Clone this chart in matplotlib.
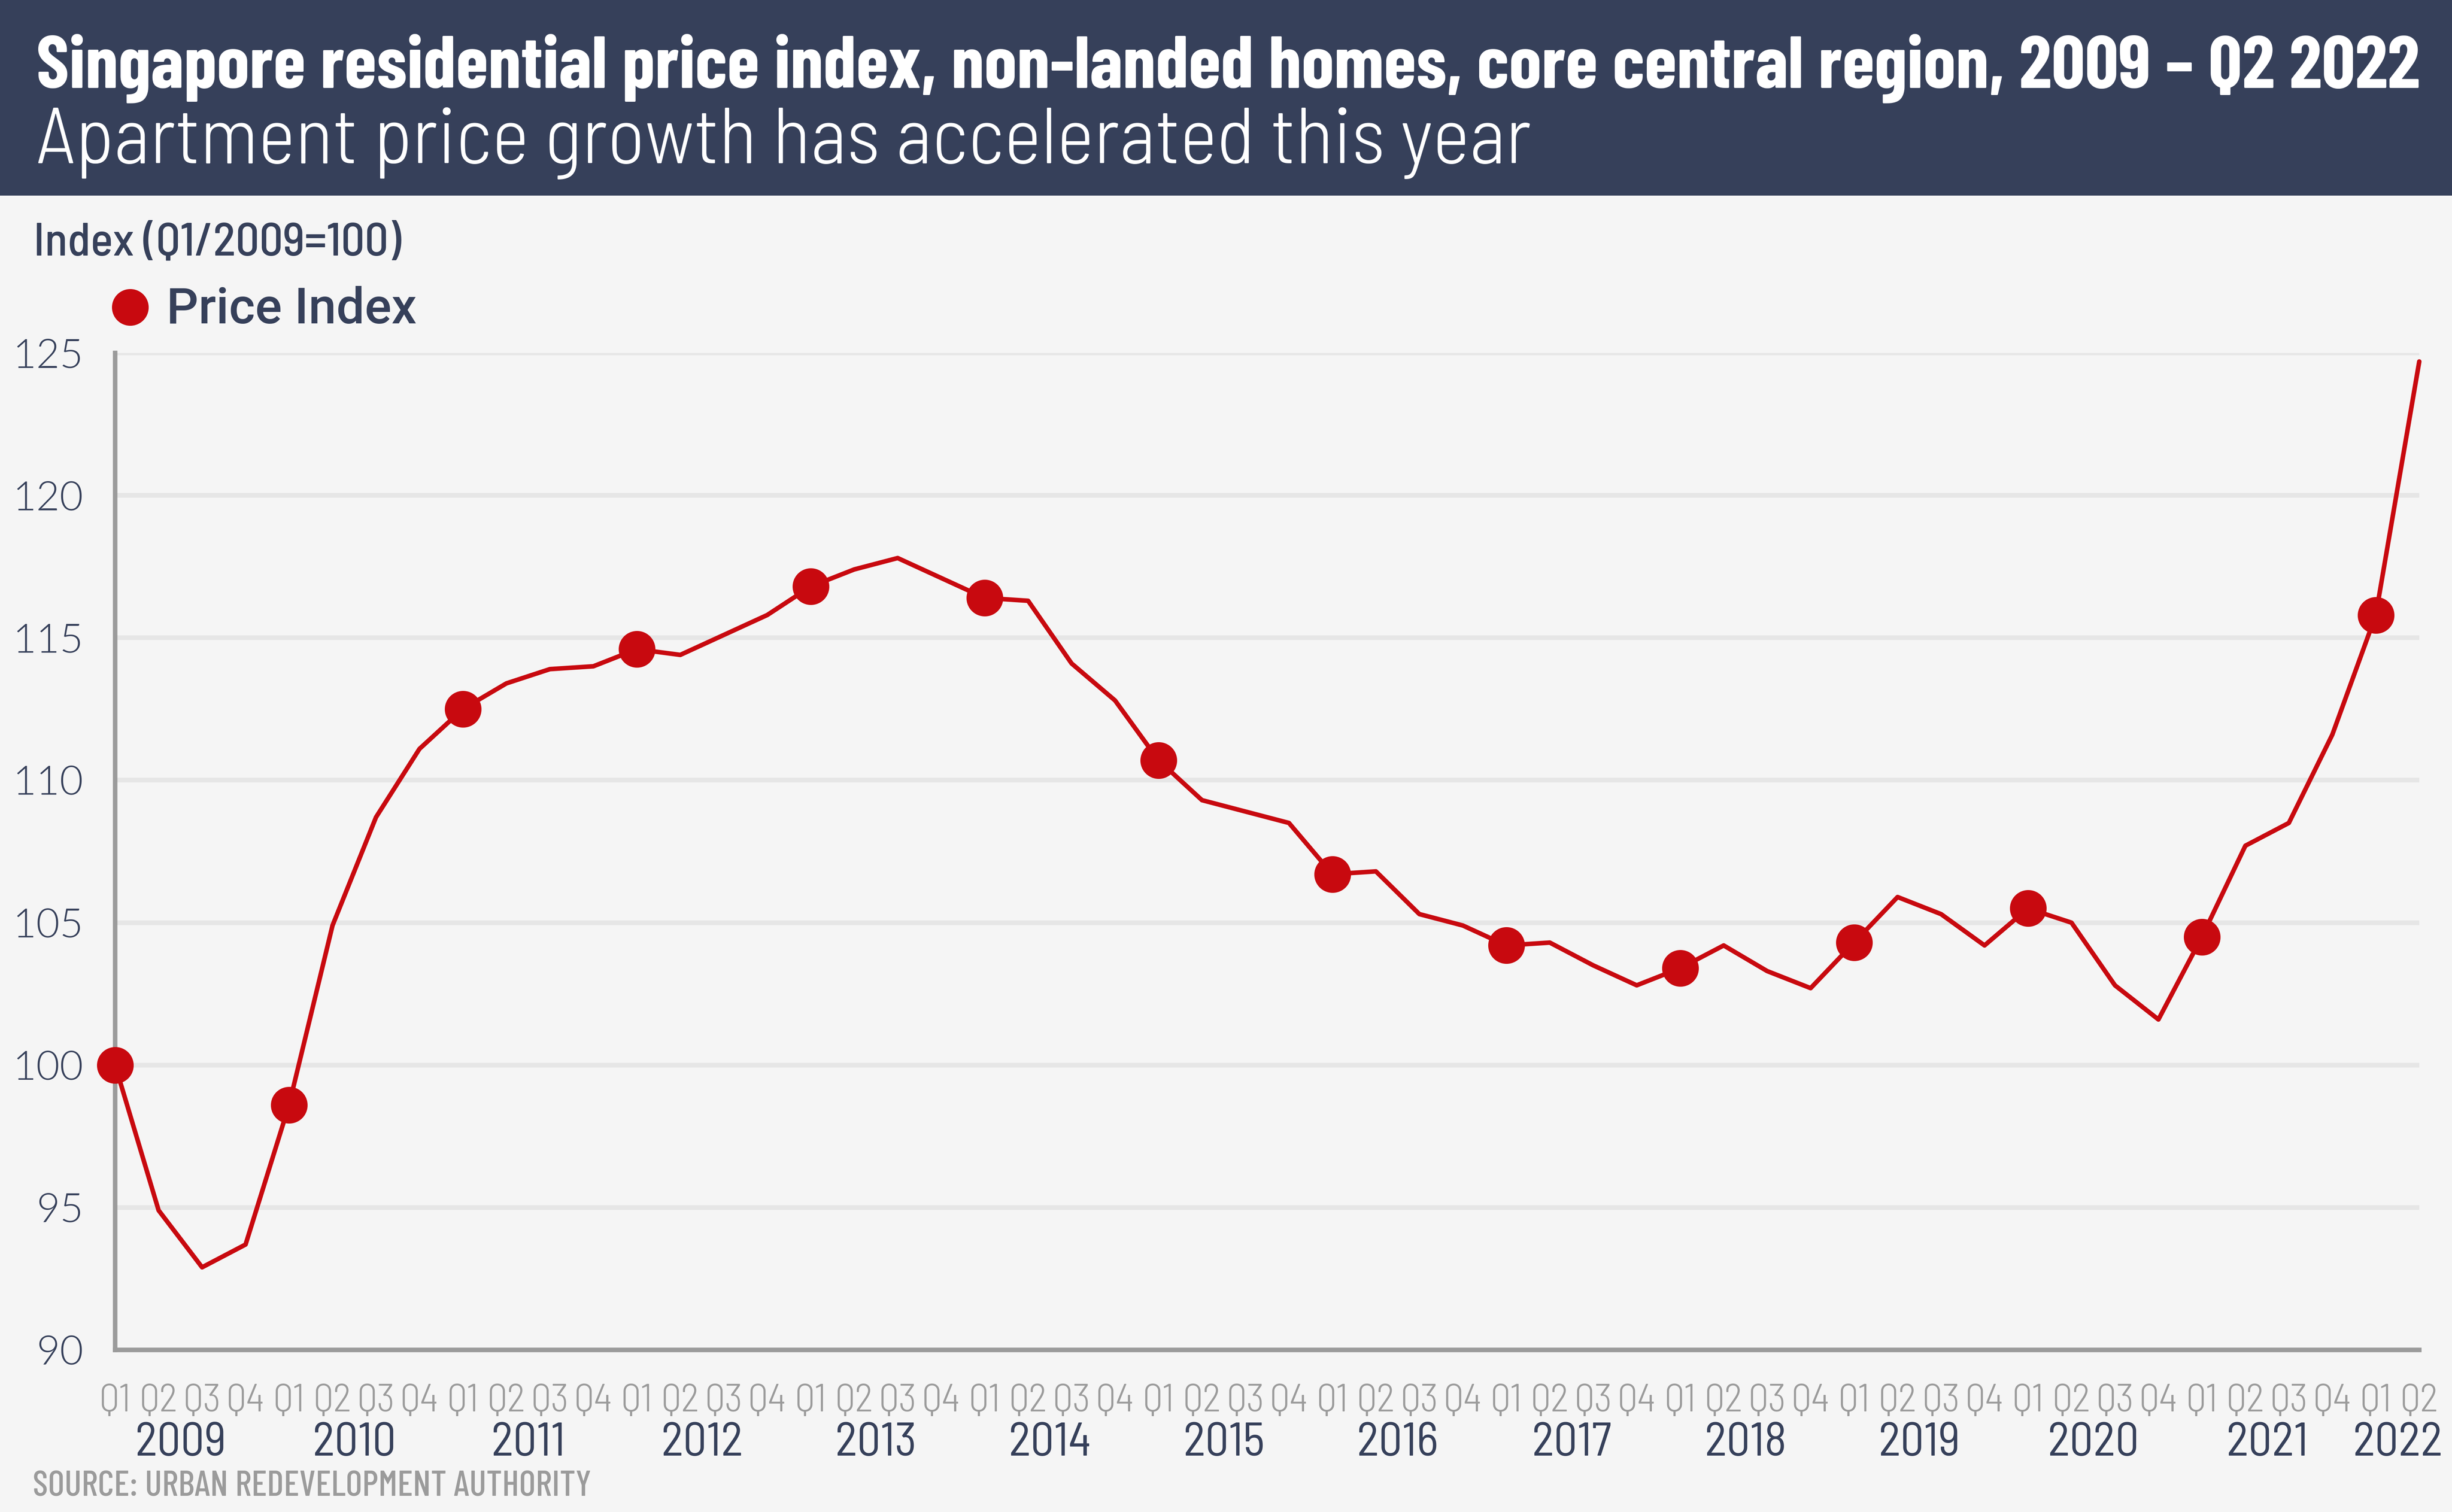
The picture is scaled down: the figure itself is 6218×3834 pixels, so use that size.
import matplotlib
matplotlib.use("Agg")
import matplotlib.pyplot as plt
from matplotlib import font_manager
from matplotlib.patches import Rectangle
from matplotlib.lines import Line2D

# Data: quarterly index, Q1 2009 .. Q2 2022
years = list(range(2009, 2023))
quarters = ["Q1", "Q2", "Q3", "Q4"]
price_index = [
    100.0, 94.9, 92.9, 93.7,      # 2009
    98.6, 104.9, 108.7, 111.1,    # 2010
    112.5, 113.4, 113.9, 114.0,   # 2011
    114.6, 114.4, 115.1, 115.8,   # 2012
    116.8, 117.4, 117.8, 117.1,   # 2013
    116.4, 116.3, 114.1, 112.8,   # 2014
    110.7, 109.3, 108.9, 108.5,   # 2015
    106.7, 106.8, 105.3, 104.9,   # 2016
    104.2, 104.3, 103.5, 102.8,   # 2017
    103.4, 104.2, 103.3, 102.7,   # 2018
    104.3, 105.9, 105.3, 104.2,   # 2019
    105.5, 105.0, 102.8, 101.6,   # 2020
    104.5, 107.7, 108.5, 111.6,   # 2021
    115.8, 124.7,                 # 2022
]
quarter_labels = [quarters[i % 4] for i in range(len(price_index))]
y_ticks = [90, 95, 100, 105, 110, 115, 120, 125]

NAVY = "#36405a"
RED = "#c8090f"
GREY = "#9b9b9b"
BG = "#f5f5f5"

avail = {f.name for f in font_manager.fontManager.ttflist}


def pick(*names):
    return [n for n in names if n in avail] + ["DejaVu Sans"]


COND = pick("Barlow Condensed", "Roboto Condensed", "Archivo Narrow", "Liberation Sans Narrow", "Roboto")
SEMI = pick("Barlow Semi Condensed", "Barlow", "Roboto")
GEO = pick("Lato", "Open Sans")
PLAIN = pick("Roboto", "Lato")

W, H = 6218, 3834
fig = plt.figure(figsize=(W / 100, H / 100), dpi=100, facecolor=BG)

# header band
fig.patches.append(Rectangle((0, 1 - 496 / H), 1, 496 / H, transform=fig.transFigure,
                             facecolor=NAVY, edgecolor="none", zorder=0))

ax = fig.add_axes([292 / W, 1 - 3423 / H, (6135 - 292) / W, (3423 - 895) / H])
ax.set_facecolor(BG)

x = list(range(len(price_index)))
ax.plot(x, price_index, color=RED, lw=8.3, solid_joinstyle="round", solid_capstyle="round",
        clip_on=False, zorder=3)
ax.plot(x[::4], price_index[::4], "o", color=RED, ms=66, clip_on=False, zorder=4)

ax.set_xlim(0, len(price_index) - 1)
ax.set_ylim(90, 125)
ax.set_yticks(y_ticks)
ax.set_yticklabels([str(v) for v in y_ticks], family=GEO, fontsize=74, color=NAVY, weight=300)
ax.set_xticks(x)
ax.set_xticklabels(quarter_labels, family=SEMI, fontsize=72, color=GREY, weight=300)
ax.tick_params(axis="y", length=0, pad=58)
ax.tick_params(axis="x", length=0, pad=62)

ax.grid(axis="y", color="#e6e6e6", lw=8.6)
ax.set_axisbelow(True)
for s in ["top", "right"]:
    ax.spines[s].set_visible(False)
for s in ["left", "bottom"]:
    ax.spines[s].set_color(GREY)
    ax.spines[s].set_linewidth(8.3)
    ax.spines[s].set_zorder(2)

# year labels under the quarters
for i, yr in enumerate(years):
    xc = 4 * i + 1.5 if yr < 2022 else 4 * i + 0.5
    ax.text(xc, -0.094, str(yr), transform=ax.get_xaxis_transform(), ha="center", va="center",
            family=SEMI, fontsize=86, color=NAVY, weight=400)

# titles and notes
title = fig.text(92 / W, 1 - 223 / H, "Singapore residential price index, non-landed homes, core central region, 2009 \u2013 Q2 2022",
                 family=COND, weight="bold", fontsize=130, color="white", va="baseline")
subtitle = fig.text(92 / W, 1 - 414 / H, "Apartment price growth has accelerated this year",
                    family=SEMI, weight=300, fontsize=130, color="white", va="baseline")
ylab = fig.text(85 / W, 1 - 648 / H, "Index (Q1/2009=100)", family=SEMI, weight=500,
                fontsize=68, color=NAVY, va="baseline")
leg = fig.text(422 / W, 1 - 820 / H, "Price Index", family=PLAIN, weight=500,
               fontsize=92, color=NAVY, va="baseline")
fig.add_artist(Line2D([330 / W], [1 - 779 / H], marker="o", ms=66, color=RED,
                      transform=fig.transFigure))
source = fig.text(83 / W, 1 - 3793 / H, "SOURCE: URBAN REDEVELOPMENT AUTHORITY", family=COND,
                  weight=500, fontsize=46, color=GREY, va="baseline")

# scale text so widths match the layout
renderer = fig.canvas.get_renderer()
for t, target in [(title, 6048), (subtitle, 3790), (ylab, 933), (leg, 634), (source, 1416)]:
    w = t.get_window_extent(renderer).width
    t.set_fontsize(t.get_fontsize() * target / w)

fig.savefig("out.png", dpi=100, facecolor=BG)
